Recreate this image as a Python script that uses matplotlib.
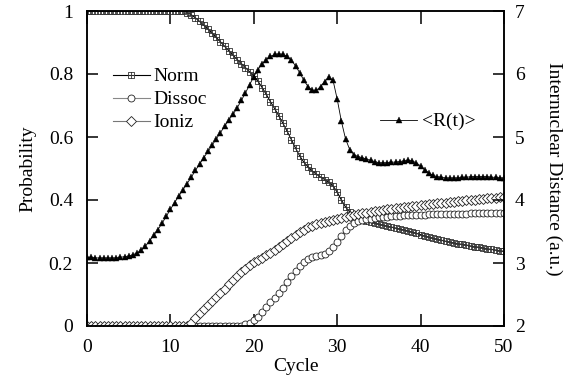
import numpy as np
import matplotlib
matplotlib.use("Agg")
import matplotlib.pyplot as plt
from matplotlib.path import Path

plt.rcParams['font.family'] = ['Liberation Serif', 'DejaVu Serif']

cycles = np.arange(0, 50.5, 0.5)

norm = [1, 1, 1, 1, 1, 1, 1, 1, 1, 1,
        1, 1, 1, 1, 1, 1, 1, 1, 1, 1,
        1, 1, 1, 1, 0.995, 0.988, 0.978, 0.967, 0.955, 0.943,
        0.93, 0.916, 0.902, 0.888, 0.874, 0.86, 0.846, 0.833, 0.82, 0.807,
        0.793, 0.777, 0.757, 0.735, 0.712, 0.69, 0.667, 0.643, 0.618, 0.592,
        0.565, 0.54, 0.52, 0.505, 0.492, 0.482, 0.473, 0.465, 0.456, 0.445,
        0.425, 0.4, 0.378, 0.362, 0.35, 0.343, 0.338, 0.334, 0.33, 0.327,
        0.323, 0.32, 0.317, 0.314, 0.311, 0.308, 0.305, 0.302, 0.298, 0.294,
        0.29, 0.286, 0.282, 0.278, 0.275, 0.272, 0.269, 0.266, 0.264, 0.261,
        0.259, 0.257, 0.254, 0.252, 0.25, 0.248, 0.245, 0.243, 0.241, 0.239,
        0.237]

dissoc = [0, 0, 0, 0, 0, 0, 0, 0, 0, 0,
          0, 0, 0, 0, 0, 0, 0, 0, 0, 0,
          0, 0, 0, 0, 0, 0, 0, 0, 0, 0,
          0, 0, 0, 0, 0, 0, 0, 0, 0.005, 0.01,
          0.018, 0.03, 0.045, 0.06, 0.075, 0.09, 0.105, 0.12, 0.14, 0.158,
          0.175, 0.19, 0.202, 0.212, 0.219, 0.223, 0.226, 0.23, 0.237, 0.25,
          0.267, 0.287, 0.305, 0.318, 0.327, 0.332, 0.336, 0.339, 0.341, 0.343,
          0.345, 0.346, 0.347, 0.348, 0.349, 0.35, 0.351, 0.351, 0.352, 0.352,
          0.353, 0.353, 0.354, 0.354, 0.355, 0.355, 0.356, 0.356, 0.356, 0.357,
          0.357, 0.357, 0.358, 0.358, 0.358, 0.359, 0.359, 0.359, 0.36, 0.36,
          0.36]

ioniz = [0, 0, 0, 0, 0, 0, 0, 0, 0, 0,
         0, 0, 0, 0, 0, 0, 0, 0, 0, 0,
         0, 0, 0, 0, 0, 0.01, 0.025, 0.04, 0.055, 0.068,
         0.08, 0.093, 0.106, 0.119, 0.132, 0.145, 0.158, 0.17, 0.182, 0.193,
         0.202, 0.21, 0.217, 0.224, 0.232, 0.241, 0.25, 0.26, 0.27, 0.28,
         0.29, 0.298, 0.306, 0.313, 0.318, 0.323, 0.327, 0.331, 0.334, 0.337,
         0.34, 0.343, 0.346, 0.349, 0.352, 0.355, 0.358, 0.36, 0.362, 0.364,
         0.366, 0.368, 0.37, 0.372, 0.374, 0.376, 0.377, 0.379, 0.38, 0.382,
         0.383, 0.385, 0.386, 0.388, 0.389, 0.391, 0.392, 0.394, 0.395, 0.397,
         0.398, 0.399, 0.4, 0.401, 0.403, 0.404, 0.405, 0.406, 0.407, 0.408,
         0.41]

rdist = [3.09, 3.09, 3.08, 3.08, 3.08, 3.08, 3.08, 3.08, 3.09, 3.1,
         3.11, 3.13, 3.16, 3.2, 3.27, 3.35, 3.44, 3.53, 3.63, 3.74,
         3.85, 3.96, 4.06, 4.16, 4.26, 4.36, 4.47, 4.57, 4.67, 4.77,
         4.87, 4.97, 5.07, 5.17, 5.27, 5.36, 5.46, 5.58, 5.7, 5.83,
         5.96, 6.07, 6.16, 6.23, 6.28, 6.31, 6.32, 6.31, 6.28, 6.22,
         6.13, 6.02, 5.9, 5.8, 5.74, 5.74, 5.8, 5.88, 5.95, 5.9,
         5.6, 5.25, 4.97, 4.8, 4.72, 4.69, 4.67, 4.65, 4.63, 4.61,
         4.59, 4.59, 4.59, 4.6, 4.6, 4.61, 4.62, 4.63, 4.62, 4.59,
         4.54, 4.48, 4.43, 4.39, 4.37, 4.36, 4.35, 4.35, 4.35, 4.35,
         4.36, 4.36, 4.37, 4.37, 4.37, 4.37, 4.37, 4.36, 4.36, 4.35,
         4.35]

x_ticks = [0, 10, 20, 30, 40, 50]
p_ticks = [0, 0.2, 0.4, 0.6, 0.8, 1]
p_labels = ['0', '0.2', '0.4', '0.6', '0.8', '1']
r_ticks = [2, 3, 4, 5, 6, 7]

# square-with-cross marker
sq_cross = Path([(-1, -1), (1, -1), (1, 1), (-1, 1), (-1, -1),
                 (0, -1), (0, 1), (-1, 0), (1, 0)],
                [Path.MOVETO, Path.LINETO, Path.LINETO, Path.LINETO, Path.CLOSEPOLY,
                 Path.MOVETO, Path.LINETO, Path.MOVETO, Path.LINETO])

FS = 14
fig = plt.figure(figsize=(5.67, 3.80), dpi=100)
ax = fig.add_axes([87/567, 54/380, 417/567, 315/380])
ax2 = ax.twinx()

ec = '#222222'
ax.plot(cycles, norm, color='black', lw=0.8, marker=sq_cross, ms=4.6,
        mfc='none', mec='#333333', mew=0.6, label='Norm')
ax.plot(cycles, dissoc, color='#888888', lw=0.8, marker='o', ms=5,
        mfc='white', mec=ec, mew=0.6, label='Dissoc')
ax.plot(cycles, ioniz, color='#777777', lw=0.8, marker='D', ms=4.6,
        mfc='white', mec=ec, mew=0.6, label='Ioniz')
ax2.plot(cycles, rdist, color='black', lw=0.6, marker='^', ms=5,
         mfc='black', mec='black', mew=0.3, label='<R(t)>')

ax.set_xlim(0, 50)
ax.set_ylim(0, 1)
ax2.set_ylim(2, 7)
ax.set_xticks(x_ticks)
ax.set_yticks(p_ticks)
ax.set_yticklabels(p_labels)
ax2.set_yticks(r_ticks)

for a in (ax, ax2):
    for s in a.spines.values():
        s.set_linewidth(1.1)
ax.tick_params(axis='x', direction='in', length=9, width=1.1, top=True,
               labelsize=FS, pad=9)
ax.tick_params(axis='y', direction='in', length=8, width=1.1, labelsize=FS, pad=10)
ax2.tick_params(axis='y', direction='in', length=8, width=1.1, labelsize=FS, pad=8)

ax.set_xlabel('Cycle', fontsize=FS, labelpad=2)
ax.set_ylabel('Probability', fontsize=FS, labelpad=9)
ax2.set_ylabel('Internuclear Distance (a.u.)', fontsize=FS, rotation=270,
               labelpad=27)

leg1 = ax.legend(loc='upper left', bbox_to_anchor=(0.062, 0.82), frameon=False,
                 fontsize=FS, handlelength=1.9, handletextpad=0.2,
                 labelspacing=0.28, borderpad=0, borderaxespad=0)
leg2 = ax2.legend(loc='upper left', bbox_to_anchor=(0.703, 0.677), frameon=False,
                  fontsize=FS, handlelength=1.9, handletextpad=0.25,
                  borderpad=0, borderaxespad=0)

fig.savefig('out.png', dpi=100)
